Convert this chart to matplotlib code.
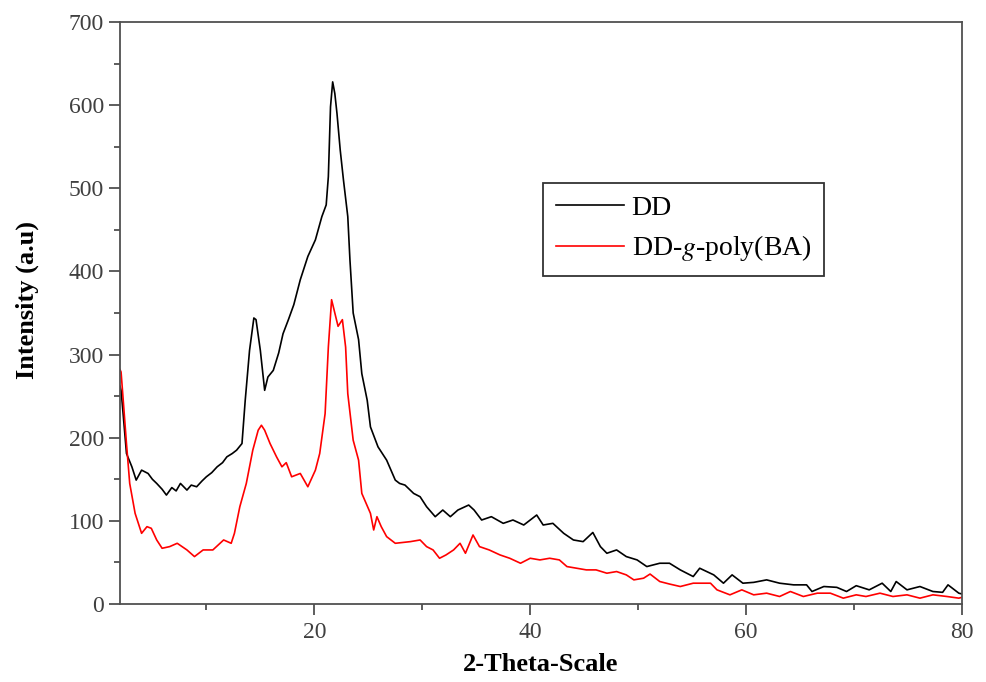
import matplotlib
matplotlib.use("Agg")
import matplotlib.pyplot as plt
from matplotlib.ticker import MultipleLocator

plt.rcParams['font.family'] = ['Liberation Serif', 'DejaVu Serif']
plt.rcParams['mathtext.fontset'] = 'stix'

# values (2-theta, intensity)
dd_x = [2.0, 2.1, 2.3, 2.6, 3.1, 3.5, 4.0, 4.6, 5.0, 5.4, 5.9, 6.3, 6.8, 7.2, 7.6, 8.2, 8.6,
        9.1, 9.6, 10.0, 10.5, 11.0, 11.5, 11.9, 12.4, 12.8, 13.3, 13.6, 14.0, 14.4, 14.6,
        15.0, 15.4, 15.7, 16.2, 16.7, 17.1, 17.6, 18.1, 18.7, 19.4, 20.1, 20.7, 21.1, 21.3,
        21.5, 21.7, 21.9, 22.1, 22.4, 22.7, 23.1, 23.3, 23.6, 24.1, 24.4, 24.9, 25.2, 25.9,
        26.7, 27.5, 27.9, 28.4, 29.2, 29.8, 30.4, 31.2, 31.9, 32.6, 33.3, 34.3, 34.8, 35.5,
        36.4, 37.5, 38.4, 39.4, 40.6, 41.2, 42.1, 43.1, 44.0, 44.9, 45.8, 46.5, 47.1, 48.0,
        48.9, 49.9, 50.8, 52.0, 52.9, 53.9, 55.1, 55.7, 57.0, 57.9, 58.7, 59.7, 60.7, 61.9,
        63.1, 64.4, 65.6, 66.1, 67.2, 68.4, 69.3, 70.2, 71.4, 72.6, 73.4, 73.9, 74.9, 76.1,
        77.3, 78.2, 78.7, 79.7, 80.0]
dd_y = [262, 257, 227, 181, 165, 149, 161, 157, 150, 145, 138, 131, 140, 136, 145, 137, 143,
        141, 148, 153, 158, 165, 170, 177, 181, 185, 193, 245, 305, 344, 342,
        305, 257, 273, 281, 302, 325, 342, 360, 390, 418, 438, 466, 480, 514,
        598, 628, 614, 590, 546, 510, 466, 414, 350, 318, 277, 245, 213, 189,
        173, 149, 145, 143, 133, 129, 117, 105, 113, 105, 113, 119, 113, 101,
        105, 97, 101, 95, 107, 95, 97, 85, 77, 75, 86, 69, 61, 65,
        57, 53, 45, 49, 49, 41, 33, 43, 35, 25, 35, 25, 26, 29,
        25, 23, 23, 15, 21, 20, 15, 22, 17, 25, 15, 27, 17, 21,
        15, 14, 23, 13, 12]

ba_x = [2.0, 2.1, 2.3, 2.6, 2.9, 3.4, 4.0, 4.5, 4.9, 5.4, 5.9, 6.6, 7.3, 8.2, 8.9, 9.7, 10.6,
        11.6, 12.3, 12.6, 13.1, 13.7, 14.3, 14.8, 15.1, 15.4, 15.9, 16.5, 17.0, 17.4, 17.9,
        18.7, 19.4, 20.1, 20.5, 21.0, 21.3, 21.6, 21.9, 22.2, 22.6, 22.9, 23.1, 23.6, 24.1,
        24.4, 25.2, 25.5, 25.8, 26.2, 26.7, 27.5, 28.9, 29.8, 30.4, 31.0, 31.6, 32.2, 32.9,
        33.5, 34.0, 34.7, 35.3, 36.2, 37.2, 38.1, 39.1, 40.0, 40.9, 41.8, 42.7, 43.4, 44.3,
        45.2, 46.1, 47.1, 48.0, 48.9, 49.6, 50.5, 51.1, 52.0, 52.9, 53.9, 55.1, 56.7, 57.3,
        58.5, 59.6, 60.7, 61.9, 63.1, 64.1, 65.3, 66.6, 67.8, 69.0, 70.2, 71.1, 72.4, 73.6,
        74.9, 76.1, 77.3, 78.6, 79.7, 80.0]
ba_y = [282, 279, 245, 193, 145, 109, 85, 93, 91, 77, 67, 69, 73, 65, 57, 65, 65,
        77, 73, 85, 117, 145, 185, 209, 215, 209, 193, 177, 165, 170, 153,
        157, 141, 161, 181, 229, 309, 366, 350, 334, 342, 309, 253, 197, 173,
        133, 109, 89, 105, 93, 81, 73, 75, 77, 69, 65, 55, 59, 65,
        73, 61, 83, 69, 65, 59, 55, 49, 55, 53, 55, 53, 45, 43,
        41, 41, 37, 39, 35, 29, 31, 36, 27, 24, 21, 25, 25, 17,
        11, 17, 11, 13, 9, 15, 9, 13, 13, 7, 11, 9, 13, 9,
        11, 7, 11, 9, 7, 8]

labels = ['DD', 'DD-$g$-poly(BA)']

fig = plt.figure(figsize=(9.86, 6.82), dpi=100)
ax = fig.add_axes([0.1217, 0.1144, 0.8540, 0.8533])

ax.plot(dd_x, dd_y, color='black', lw=1.2, label=labels[0])
ax.plot(ba_x, ba_y, color='red', lw=1.2, label=labels[1])

ax.set_xlim(2, 80)
ax.set_ylim(0, 700)
ax.xaxis.set_major_locator(MultipleLocator(20))
ax.xaxis.set_minor_locator(MultipleLocator(10))
ax.yaxis.set_major_locator(MultipleLocator(100))
ax.yaxis.set_minor_locator(MultipleLocator(50))

edge = '#505050'
for s in ax.spines.values():
    s.set_color(edge)
    s.set_linewidth(1.3)
ax.tick_params(which='both', direction='out', color=edge, width=1.3,
               labelsize=17, labelcolor='#404040', top=False, right=False)
ax.tick_params(which='major', length=8)
ax.tick_params(axis='x', which='major', pad=5)
ax.tick_params(which='minor', length=4)

ax.set_xlabel('2-Theta-Scale', fontsize=19, fontweight='bold', labelpad=7)
ax.set_ylabel('Intensity (a.u)', fontsize=19, fontweight='bold')
ax.yaxis.set_label_coords(-0.096, 0.522)

leg = ax.legend(loc='upper left', bbox_to_anchor=(0.5024, 0.7234), fontsize=20,
                frameon=True, fancybox=False, edgecolor='#333333', framealpha=1,
                handlelength=2.45, handletextpad=0.29, labelspacing=0.45,
                borderpad=0.45, borderaxespad=0)
leg.get_frame().set_linewidth(1.3)

fig.savefig('out.png', dpi=100)
